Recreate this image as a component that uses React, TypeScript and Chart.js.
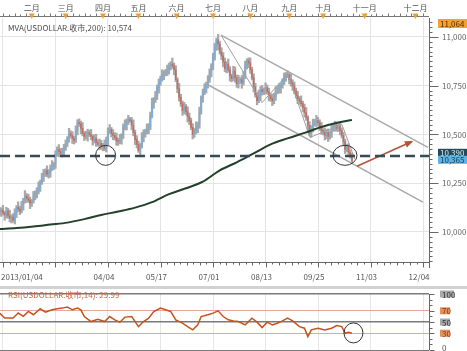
import React, { useEffect, useRef } from "react";
import { Chart, registerables } from "chart.js";
Chart.register(...registerables);

// ---------- data ----------
const closes = [
  10102, 10112, 10097, 10087, 10107, 10082, 10071, 10077, 10061, 10097,
  10128, 10117, 10107, 10138, 10163, 10184, 10173, 10163, 10148, 10158,
  10184, 10199, 10209, 10230, 10255, 10286, 10301, 10316, 10296, 10306,
  10327, 10337, 10347, 10398, 10423, 10413, 10403, 10418, 10429, 10454,
  10480, 10505, 10495, 10480, 10469, 10520, 10561, 10556, 10531, 10505,
  10490, 10495, 10510, 10500, 10490, 10469, 10480, 10459, 10449, 10454,
  10439, 10444, 10429, 10474, 10515, 10526, 10505, 10495, 10485, 10469,
  10464, 10474, 10495, 10536, 10551, 10566, 10577, 10571, 10546, 10510,
  10474, 10449, 10418, 10444, 10485, 10505, 10515, 10531, 10541, 10597,
  10658, 10679, 10699, 10740, 10765, 10791, 10806, 10811, 10821, 10832,
  10847, 10862, 10852, 10832, 10781, 10735, 10689, 10658, 10622, 10643,
  10617, 10592, 10571, 10536, 10500, 10515, 10536, 10551, 10617, 10689,
  10714, 10735, 10755, 10781, 10821, 10852, 10893, 10949, 10985, 10964,
  10923, 10903, 10872, 10837, 10862, 10832, 10801, 10786, 10827, 10791,
  10760, 10776, 10781, 10765, 10806, 10852, 10878, 10867, 10832, 10791,
  10745, 10704, 10673, 10699, 10730, 10719, 10730, 10740, 10719, 10699,
  10684, 10673, 10694, 10719, 10735, 10740, 10750, 10776, 10791, 10801,
  10806, 10781, 10765, 10750, 10724, 10699, 10684, 10673, 10658, 10638,
  10612, 10587, 10546, 10505, 10531, 10556, 10566, 10571, 10561, 10541,
  10520, 10510, 10495, 10510, 10490, 10505, 10526, 10541, 10546, 10531,
  10541, 10520, 10495, 10464, 10423, 10434, 10408, 10393, 10365,
];
const firstOpen = 10110;
const wickHi = [
  18, 12, 25, 9, 20, 14, 30, 11, 17, 22,
  8, 26, 15, 19, 10, 28, 13, 21, 16, 9,
  24, 12, 18, 27, 11, 15, 20, 8, 23, 14,
  17, 29, 10, 19, 13, 25, 16, 12, 21, 18,
  9, 27, 14, 20, 11, 24, 15, 19, 13, 30,
  10, 22, 17, 12, 26, 9, 18, 21, 14, 23,
  16, 11, 28, 13, 19, 25, 10, 20, 15, 22,
  12, 27, 9, 18, 24, 14, 21, 11, 16, 29,
  13, 20, 17, 10, 25, 19, 12, 23, 15, 18,
  28, 11, 22, 14, 20, 9, 26, 16, 13, 24,
  19, 12, 30, 15, 21, 10, 27, 17, 14, 22,
  11, 25, 18, 13, 20, 16, 29, 12, 23, 9,
  19, 26, 14, 21, 15, 11, 24, 18, 10, 28,
  13, 22, 17, 20, 12, 25, 16, 9, 23, 19,
  14, 27, 11, 21, 18, 24, 10, 15, 26, 13,
  20, 17, 12, 29, 16, 22, 9, 25, 14, 19,
  11, 23, 18, 27, 13, 20, 15, 10, 24, 17,
  21, 12, 28, 16, 19, 14, 22, 11, 25, 13,
  18, 26, 9, 20, 15, 23, 12, 27, 17, 14,
  21, 10, 24, 16, 19, 13, 28, 11, 22, 18,
  15, 20, 14, 17, 12, 16, 19, 13, 11,
];
const wickLo = [
  14, 22, 10, 27, 16, 12, 19, 25, 11, 20,
  23, 13, 18, 9, 26, 15, 21, 12, 28, 17,
  10, 19, 24, 14, 22, 11, 27, 16, 13, 20,
  25, 12, 17, 21, 9, 28, 14, 19, 23, 11,
  16, 20, 13, 26, 18, 10, 22, 15, 27, 12,
  21, 14, 29, 11, 17, 24, 13, 20, 9, 26,
  15, 23, 12, 19, 27, 10, 18, 22, 14, 25,
  20, 11, 24, 16, 13, 28, 15, 9, 22, 17,
  26, 18, 10, 21, 14, 23, 19, 12, 27, 16,
  12, 24, 15, 20, 28, 13, 17, 25, 11, 19,
  22, 16, 13, 26, 10, 21, 18, 14, 24, 15,
  17, 28, 20, 11, 23, 15, 12, 27, 19, 13,
  24, 10, 22, 17, 14, 26, 20, 12, 18, 29,
  11, 19, 25, 15, 21, 13, 27, 16, 10, 23,
  18, 22, 14, 28, 12, 20, 16, 24, 19, 11,
  27, 13, 21, 10, 25, 17, 15, 22, 12, 26,
  14, 25, 16, 19, 11, 23, 28, 13, 20, 18,
  10, 21, 17, 24, 15, 12, 26, 19, 14, 22,
  23, 15, 28, 11, 20, 18, 13, 25, 16, 21,
  19, 12, 23, 17, 26, 14, 20, 10, 24, 15,
  16, 22, 13, 18, 21, 11, 17, 14, 12,
];

const maIdx = [0, 10, 20, 30, 40, 50, 60, 70, 80, 90, 100, 110, 120, 130, 140, 150, 160, 170, 180, 190, 200, 208];
const maVals = [10015, 10020, 10028, 10038, 10048, 10066, 10087, 10105, 10125, 10153, 10194, 10224, 10258, 10316, 10357, 10403, 10449, 10480, 10508, 10538, 10561, 10574];

const rsiIdx = [0, 3, 8, 11, 14, 17, 20, 24, 27, 31, 34, 37, 40, 43, 46, 48, 50, 54, 58, 62, 65, 68, 71, 74, 78, 82, 85, 88, 91, 95, 98, 101, 104, 108, 111, 114, 117, 119, 123, 126, 129, 132, 135, 138, 141, 145, 149, 152, 155, 158, 161, 164, 167, 170, 173, 177, 180, 182, 184, 188, 192, 196, 199, 202, 204, 206, 208];
const rsiVals = [65.9, 57, 57, 66, 60, 69, 63, 73.6, 67.6, 71.8, 73.6, 74.8, 76.6, 71.8, 74.8, 71.8, 59.8, 50.8, 55, 50.8, 59.8, 53.9, 49.7, 58.7, 59.8, 41.8, 50.8, 56.9, 68.8, 74.8, 71.8, 68.8, 53.9, 47.9, 41.8, 35.9, 44.9, 59.8, 62.8, 65.9, 70, 59.8, 53.9, 52, 50.8, 44.9, 56.9, 49.7, 40, 49.7, 44.9, 47.9, 52, 56.9, 52, 41.8, 38.9, 23.9, 35.9, 38.9, 35.9, 38.9, 43.6, 41.8, 29.9, 31.8, 29.99];

const gridIdx = [2, 33, 64, 95, 126, 157, 188, 219, 250];
const dateLabels = ["2013/01/04", "04/04", "05/17", "07/01", "08/13", "09/25", "11/03", "12/04"];
const dateIdx = [0, 64, 95, 126, 157, 188, 219, 250];
const monthLabels = ["二月", "三月", "四月", "五月", "六月", "七月", "八月", "九月", "十月", "十一月", "十二月"];
const monthIdx = [19, 39, 61, 82, 104.5, 126, 148, 171, 191, 215.5, 245.5];
const yMajor = [10000, 10250, 10500, 10750, 11000];
const supportLevel = 10390;
const lastClose = 10365;
const highMark = 11064;
const maLast = "10,574";
const rsiLast = "29.99";
const rsiLevels = [0, 30, 50, 70, 100];
const channelUpper = [[130.7, 11010], [252.9, 10434]];
const channelLower = [[123, 10755], [249.9, 10153]];
const zigzag = [[130.7, 11010], [154.9, 10663], [170.2, 10811], [183.2, 10485], [202.1, 10551], [209.8, 10372]];
const arrowPts = [[211, 10337], [243.4, 10464]];
const circles = [
  { i: 62.6, v: 10393, rx: 10, ry: 10 },
  { i: 203.9, v: 10393, rx: 12, ry: 10 },
];
const rsiCircle = { i: 208.9, v: 30.5, rx: 9.5, ry: 10 };

const X_MIN = 0.25;
const X_MAX = 253.5;
const Y_MIN = 9846;
const Y_MAX = 11097.4;

const FONT = '8px "Noto Sans CJK SC", "DejaVu Sans", sans-serif';
const UP = "#79addb";
const DOWN = "#c56a5b";
const WICK = "#a8a8a8";

const fmt = (v: number) => {
  const s = String(Math.round(v));
  return s.length > 3 ? s.slice(0, s.length - 3) + "," + s.slice(-3) : s;
};

function tag(ctx: CanvasRenderingContext2D, text: string, x: number, yc: number, w: number, h: number, bg: string, fg: string) {
  ctx.fillStyle = bg;
  ctx.fillRect(x, yc - h / 2, w, h);
  ctx.fillStyle = fg;
  ctx.textAlign = "left";
  ctx.textBaseline = "middle";
  ctx.fillText(text, x + 2, yc + 0.5);
}

const mainOverlay = {
  id: "mainOverlay",
  afterDraw(chart: any) {
    const { ctx, chartArea: ca, scales } = chart;
    const xs = scales.x;
    const ys = scales.y;
    const px = (i: number) => xs.getPixelForValue(i);
    const py = (v: number) => ys.getPixelForValue(v);
    ctx.save();
    ctx.font = FONT;

    // circles
    ctx.strokeStyle = "#333";
    ctx.lineWidth = 1;
    circles.forEach((c) => {
      ctx.beginPath();
      ctx.ellipse(px(c.i), py(c.v), c.rx, c.ry, 0, 0, Math.PI * 2);
      ctx.stroke();
    });

    // arrow head
    const x0 = px(arrowPts[0][0]), y0 = py(arrowPts[0][1]);
    const x1 = px(arrowPts[1][0]), y1 = py(arrowPts[1][1]);
    const ang = Math.atan2(y1 - y0, x1 - x0);
    ctx.fillStyle = "#b0553c";
    ctx.beginPath();
    ctx.moveTo(x1 + 1.5 * Math.cos(ang), y1 + 1.5 * Math.sin(ang));
    ctx.lineTo(x1 - 7 * Math.cos(ang) + 3.5 * Math.sin(ang), y1 - 7 * Math.sin(ang) - 3.5 * Math.cos(ang));
    ctx.lineTo(x1 - 7 * Math.cos(ang) - 3.5 * Math.sin(ang), y1 - 7 * Math.sin(ang) + 3.5 * Math.cos(ang));
    ctx.closePath();
    ctx.fill();

    // top ruler
    ctx.strokeStyle = "#777";
    ctx.lineWidth = 1;
    ctx.beginPath();
    ctx.moveTo(0, 16.5);
    ctx.lineTo(ca.right, 16.5);
    const step = 31 / 9;
    for (let k = -1; ; k++) {
      const idx = gridIdx[0] + k * step;
      const xx = Math.round(px(idx)) + 0.5;
      if (xx > ca.right) break;
      if (xx < 0) continue;
      const len = k % 2 === 0 ? 3 : 2;
      ctx.moveTo(xx, 16.5);
      ctx.lineTo(xx, 16.5 - len);
    }
    ctx.stroke();

    // month markers
    monthIdx.forEach((m, k) => {
      const xx = px(m);
      ctx.fillStyle = "#f0a032";
      ctx.beginPath();
      ctx.moveTo(xx - 3, 13.5);
      ctx.lineTo(xx + 3, 13.5);
      ctx.lineTo(xx, 19);
      ctx.closePath();
      ctx.fill();
      ctx.fillStyle = "#555";
      ctx.textAlign = "center";
      ctx.textBaseline = "middle";
      ctx.fillText(monthLabels[k], xx, 7.5);
    });

    // MVA label
    ctx.fillStyle = "#4a4a4a";
    ctx.textAlign = "left";
    ctx.textBaseline = "middle";
    ctx.fillText("MVA(USDOLLAR.收市,200): " + maLast, 8, 28);

    // bottom axis
    ctx.strokeStyle = "#666";
    ctx.beginPath();
    ctx.moveTo(0, ca.bottom + 0.5);
    ctx.lineTo(ca.right, ca.bottom + 0.5);
    const bstep = 31 / 8;
    for (let k = 0; ; k++) {
      const idx = gridIdx[0] + k * bstep;
      const xx = Math.round(px(idx)) + 0.5;
      if (xx > ca.right + 1) break;
      const len = k % 8 === 0 ? 5 : k % 2 === 0 ? 3 : 2;
      ctx.moveTo(xx, ca.bottom + 0.5);
      ctx.lineTo(xx, ca.bottom + 0.5 + len);
    }
    ctx.stroke();
    ctx.fillStyle = "#555";
    ctx.textBaseline = "middle";
    dateLabels.forEach((t, k) => {
      if (k === 0) {
        ctx.textAlign = "left";
        ctx.fillText(t, 1, 277);
      } else {
        ctx.textAlign = "center";
        ctx.fillText(t, px(dateIdx[k]) - 4, 277);
      }
    });

    // right axis
    ctx.strokeStyle = "#666";
    ctx.beginPath();
    ctx.moveTo(ca.right + 0.5, ca.top);
    ctx.lineTo(ca.right + 0.5, ca.bottom + 6);
    for (let v = Math.ceil(Y_MIN / 25) * 25; v <= Y_MAX; v += 25) {
      const yy = Math.round(py(v)) + 0.5;
      const len = v % 250 === 0 ? 9 : 3;
      ctx.moveTo(ca.right + 0.5, yy);
      ctx.lineTo(ca.right + 0.5 + len, yy);
    }
    ctx.stroke();
    ctx.fillStyle = "#666";
    ctx.textAlign = "left";
    yMajor.forEach((v) => {
      ctx.fillText(fmt(v), ca.right + 13, py(v));
    });

    // special tags
    const tx = ca.right + 9;
    const tw = 467 - tx;
    tag(ctx, fmt(highMark), tx, py(highMark) - 1, tw, 9, "#f0a236", "#5a2a00");
    const yb = py(lastClose) - 1;
    tag(ctx, fmt(supportLevel), tx, yb - 7, tw, 8, "#24495a", "#d8eef5");
    tag(ctx, fmt(lastClose), tx, yb, tw, 8, "#5fb3e4", "#123a5a");
    ctx.restore();
  },
};

const rsiOverlay = {
  id: "rsiOverlay",
  afterDraw(chart: any) {
    const { ctx, chartArea: ca, scales } = chart;
    const xs = scales.x;
    const ys = scales.y;
    const px = (i: number) => xs.getPixelForValue(i);
    const py = (v: number) => ys.getPixelForValue(v);
    ctx.save();
    ctx.font = FONT;
    // separator band
    ctx.fillStyle = "#d2d2d2";
    ctx.fillRect(0, 1, 467, 3);
    // circle
    ctx.strokeStyle = "#333";
    ctx.lineWidth = 1;
    ctx.beginPath();
    ctx.ellipse(px(rsiCircle.i), py(rsiCircle.v), rsiCircle.rx, rsiCircle.ry, 0, 0, Math.PI * 2);
    ctx.stroke();
    // label
    ctx.fillStyle = "#c8643c";
    ctx.textAlign = "left";
    ctx.textBaseline = "middle";
    ctx.fillText("RSI(USDOLLAR.收市,14): " + rsiLast, 8, 10);
    // right axis
    ctx.strokeStyle = "#666";
    ctx.beginPath();
    ctx.moveTo(ca.right + 0.5, ca.top);
    ctx.lineTo(ca.right + 0.5, ca.bottom);
    for (let v = 0; v <= 100; v += 10) {
      const yy = Math.round(py(v)) + 0.5;
      const len = rsiLevels.indexOf(v) >= 0 ? 5 : 3;
      ctx.moveTo(ca.right + 0.5, yy);
      ctx.lineTo(ca.right + 0.5 + len, yy);
    }
    ctx.stroke();
    rsiLevels.forEach((v) => {
      const yy = py(v);
      if (v === 0) {
        ctx.fillStyle = "#555";
        ctx.fillText("0", ca.right + 13, yy - 2);
      } else if (v === 100 || v === 50) {
        tag(ctx, String(v), ca.right + 11, yy, v === 100 ? 14 : 10, 7, "#a8a8a8", "#303030");
      } else {
        tag(ctx, String(v), ca.right + 11, yy, 10, 7, "#e0925e", "#9a2a10");
      }
    });
    ctx.restore();
  },
};

export default function App() {
  const mainRef = useRef<HTMLCanvasElement>(null);
  const rsiRef = useRef<HTMLCanvasElement>(null);

  useEffect(() => {
    const opens = closes.map((c, i) => (i === 0 ? firstOpen : closes[i - 1]));
    const wickData = closes.map((c, i) => ({
      x: i,
      y: [Math.min(opens[i], c) - wickLo[i], Math.max(opens[i], c) + wickHi[i]],
    }));
    const bodyData = closes.map((c, i) => ({ x: i, y: [opens[i], c] }));
    const bodyColors = closes.map((c, i) => (c >= opens[i] ? UP : DOWN));
    const maData = maIdx.map((x, k) => ({ x, y: maVals[k] }));
    const toPts = (arr: number[][]) => arr.map((p) => ({ x: p[0], y: p[1] }));

    const lineBase = { type: "line", pointRadius: 0, fill: false };
    const main = new Chart(mainRef.current as HTMLCanvasElement, {
      type: "bar",
      data: {
        datasets: [
          { ...lineBase, data: [{ x: X_MIN, y: supportLevel }, { x: X_MAX, y: supportLevel }], borderColor: "#384a56", borderWidth: 2.5, borderDash: [10, 5], order: 1 },
          { ...lineBase, data: toPts(arrowPts), borderColor: "#b0553c", borderWidth: 1.5, order: 1 },
          { ...lineBase, data: maData, borderColor: "#22402a", borderWidth: 2, cubicInterpolationMode: "monotone", order: 2 },
          { ...lineBase, data: toPts(channelUpper), borderColor: "#a9a9a9", borderWidth: 1.5, order: 3 },
          { ...lineBase, data: toPts(channelLower), borderColor: "#a9a9a9", borderWidth: 1.5, order: 3 },
          { ...lineBase, data: toPts(zigzag), borderColor: "#a0a0a0", borderWidth: 1, order: 3 },
          { type: "bar", data: bodyData, backgroundColor: bodyColors, barThickness: 0.9, grouped: false, minBarLength: 1, order: 5 },
          { type: "bar", data: wickData, backgroundColor: WICK, barThickness: 1.6, grouped: false, order: 6 },
        ] as any,
      },
      options: {
        responsive: false,
        animation: false,
        devicePixelRatio: 1,
        layout: { padding: { top: 18, left: 0, right: 0, bottom: 0 } },
        plugins: { legend: { display: false }, tooltip: { enabled: false } },
        scales: {
          x: {
            type: "linear",
            min: X_MIN,
            max: X_MAX,
            offset: false,
            grid: { color: "#e4e4e4", drawTicks: false, offset: false },
            border: { display: false },
            ticks: { display: false },
            afterBuildTicks: (s: any) => {
              s.ticks = gridIdx.map((v) => ({ value: v }));
            },
            afterFit: (s: any) => {
              s.height = 23;
              s.paddingLeft = 0;
              s.paddingRight = 0;
            },
          },
          y: {
            position: "right",
            min: Y_MIN,
            max: Y_MAX,
            grid: { color: "#e4e4e4", drawTicks: false },
            border: { display: false },
            ticks: { display: false },
            afterBuildTicks: (s: any) => {
              s.ticks = yMajor.map((v) => ({ value: v }));
            },
            afterFit: (s: any) => {
              s.width = 38;
            },
          },
        },
      } as any,
      plugins: [mainOverlay],
    });

    const rsi = new Chart(rsiRef.current as HTMLCanvasElement, {
      type: "line",
      data: {
        datasets: [
          {
            data: rsiIdx.map((x, k) => ({ x, y: rsiVals[k] })),
            borderColor: "#c4531e",
            borderWidth: 1.5,
            pointRadius: 0,
            fill: false,
          },
        ],
      },
      options: {
        responsive: false,
        animation: false,
        devicePixelRatio: 1,
        layout: { padding: { top: 9, left: 0, right: 0, bottom: 0 } },
        plugins: { legend: { display: false }, tooltip: { enabled: false } },
        scales: {
          x: {
            type: "linear",
            min: X_MIN,
            max: X_MAX,
            grid: { color: "#e6e6e6", drawTicks: false },
            border: { display: false },
            ticks: { display: false },
            afterBuildTicks: (s: any) => {
              s.ticks = gridIdx.map((v) => ({ value: v }));
            },
            afterFit: (s: any) => {
              s.height = 1;
              s.paddingLeft = 0;
              s.paddingRight = 0;
            },
          },
          y: {
            position: "right",
            min: 0,
            max: 100,
            grid: {
              drawTicks: false,
              color: (c: any) => (c.tick && (c.tick.value === 70 || c.tick.value === 30) ? "#e2a89c" : "#7a7a7a"),
              lineWidth: (c: any) => (c.tick && (c.tick.value === 100 || c.tick.value === 50) ? 1.5 : 1),
            },
            border: { display: false },
            ticks: { display: false },
            afterBuildTicks: (s: any) => {
              s.ticks = rsiLevels.map((v) => ({ value: v }));
            },
            afterFit: (s: any) => {
              s.width = 38;
            },
          },
        },
      } as any,
      plugins: [rsiOverlay],
    });

    return () => {
      main.destroy();
      rsi.destroy();
    };
  }, []);

  return (
    <div style={{ position: "fixed", left: 0, top: 0, width: 467, height: 351, background: "#fff" }}>
      <canvas ref={mainRef} width={467} height={285} style={{ position: "absolute", left: 0, top: 0, width: 467, height: 285 }} />
      <canvas ref={rsiRef} width={467} height={66} style={{ position: "absolute", left: 0, top: 285, width: 467, height: 66 }} />
    </div>
  );
}
